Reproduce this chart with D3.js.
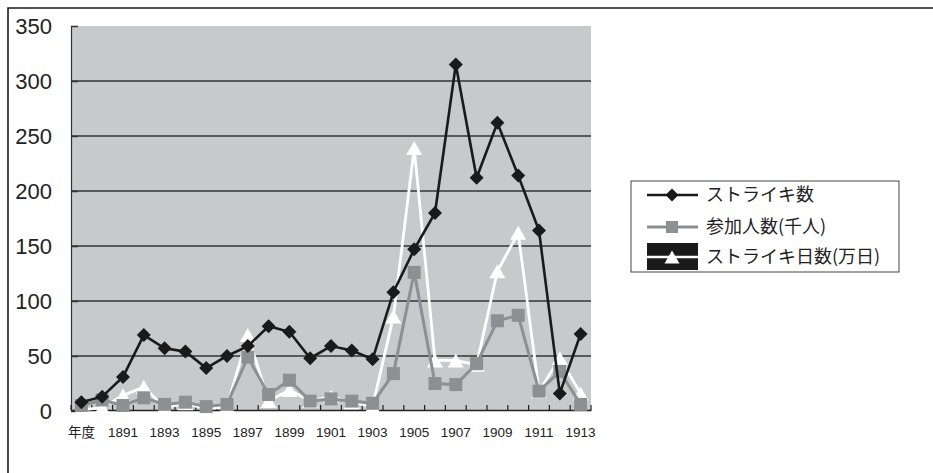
<!DOCTYPE html>
<html><head><meta charset="utf-8">
<script src="https://cdn.jsdelivr.net/npm/d3@7"></script>
<style>body{margin:0;background:#fff;}svg{display:block;}</style>
</head><body>
<svg id="c" width="933" height="473"></svg>
<script>
const categories = ["年度","1890","1891","1892","1893","1894","1895","1896","1897","1898","1899","1900","1901","1902","1903","1904","1905","1906","1907","1908","1909","1910","1911","1912","1913"];
const strikes = [8,13,31,69,57,54,39,50,59,77,72,48,59,55,47,108,147,180,315,212,262,214,164,16,70];
const participants = [5,10,5,12,6,8,4,6,49,15,28,9,11,9,7,34,126,25,24,43,82,87,18,36,6];
const strikeDays = [1,3,14,22,3,7,2,4,69,9,19,9,13,8,4,86,239,46,46,42,127,162,18,48,16];
const yTicks = [0,50,100,150,200,250,300,350];
const seriesNames = ["ストライキ数","参加人数(千人)","ストライキ日数(万日)"];

const svg = d3.select("#c");
const L = 71, R = 591, T = 26, B = 411;
const x = d3.scaleBand().domain(categories).range([L, R]);
const y = d3.scaleLinear().domain([0, 350]).range([B, T]);

svg.append("path").attr("d", `M8,480 L8,8 L940,8`).attr("fill","none").attr("stroke","#1a1a1a").attr("stroke-width",1.6);

svg.append("rect").attr("x", L).attr("y", T).attr("width", R - L).attr("height", B - T).attr("fill", "#c8c9cb");

svg.append("g").selectAll("line").data(yTicks.filter(d => d > 0 && d < 350)).join("line")
  .attr("x1", L).attr("x2", R).attr("y1", d => y(d)).attr("y2", d => y(d))
  .attr("stroke", "#333").attr("stroke-width", 1.3);

const ya = svg.append("g").attr("transform", `translate(${L},0)`)
  .call(d3.axisLeft(y).tickValues(yTicks).tickSize(-7).tickPadding(19));
ya.select(".domain").attr("stroke", "#333").attr("stroke-width", 1.2);
ya.selectAll(".tick line").attr("stroke", "#333").attr("stroke-width", 1.5);
ya.selectAll("text").attr("font-family", "Liberation Sans, Arial, sans-serif").attr("font-size", 22).attr("fill", "#222");

const xa = svg.append("g").attr("transform", `translate(0,${B - 1})`)
  .call(d3.axisBottom(x).tickValues(categories.filter((d, i) => i % 2 === 0)).tickSize(0).tickPadding(17));
xa.select(".domain").attr("stroke", "#222").attr("stroke-width", 1.5);
xa.selectAll("text").attr("font-family", "Liberation Sans, 'Noto Sans CJK JP', sans-serif").attr("font-size", 13.5).attr("fill", "#222");
svg.append("g").selectAll("line").data(d3.range(categories.length + 1)).join("line")
  .attr("x1", i => L + i * x.step()).attr("x2", i => L + i * x.step())
  .attr("y1", B - 1).attr("y2", B - 6).attr("stroke", "#222").attr("stroke-width", 1.2);

const cx = (d, i) => x(categories[i]) + x.bandwidth() / 2;
const line = d3.line().x((d, i) => cx(d, i)).y(d => y(d));
const tri = (w, h) => `M0,${-h/2}L${w/2},${h/2}L${-w/2},${h/2}Z`;
const dia = r => `M0,${-r}L${r},0L0,${r}L${-r},0Z`;

// strike days (white)
svg.append("path").attr("d", line(strikeDays)).attr("fill", "none").attr("stroke", "#fff").attr("stroke-width", 2.8);
svg.append("g").selectAll("path").data(strikeDays).join("path")
  .attr("transform", (d, i) => `translate(${cx(d, i)},${y(d)})`)
  .attr("d", tri(16, 14)).attr("fill", "#fff");

// participants (grey)
svg.append("path").attr("d", line(participants)).attr("fill", "none").attr("stroke", "#8e8f92").attr("stroke-width", 3);
svg.append("g").selectAll("rect").data(participants).join("rect")
  .attr("x", (d, i) => cx(d, i) - 6.5).attr("y", d => y(d) - 6.5).attr("width", 13).attr("height", 13)
  .attr("fill", "#8e8f92");

// strikes (black)
svg.append("path").attr("d", line(strikes)).attr("fill", "none").attr("stroke", "#1a1a1a").attr("stroke-width", 2.6);
svg.append("g").selectAll("path").data(strikes).join("path")
  .attr("transform", (d, i) => `translate(${cx(d, i)},${y(d)})`)
  .attr("d", dia(7)).attr("fill", "#1a1a1a");

// legend
const lg = svg.append("g");
lg.append("rect").attr("x", 631).attr("y", 181).attr("width", 268).attr("height", 91)
  .attr("fill", "#fff").attr("stroke", "#444").attr("stroke-width", 1);
const ly = [195, 227, 257];
lg.append("line").attr("x1", 647).attr("x2", 698).attr("y1", ly[0]).attr("y2", ly[0]).attr("stroke", "#1a1a1a").attr("stroke-width", 2.5);
lg.append("path").attr("transform", `translate(672,${ly[0]})`).attr("d", dia(6.5)).attr("fill", "#1a1a1a");
lg.append("line").attr("x1", 647).attr("x2", 698).attr("y1", ly[1]).attr("y2", ly[1]).attr("stroke", "#8e8f92").attr("stroke-width", 3);
lg.append("rect").attr("x", 666).attr("y", ly[1] - 6).attr("width", 12).attr("height", 12).attr("fill", "#8e8f92");
lg.append("rect").attr("x", 647).attr("y", 243).attr("width", 51).attr("height", 27).attr("fill", "#1a1a1a");
lg.append("line").attr("x1", 647).attr("x2", 698).attr("y1", ly[2]).attr("y2", ly[2]).attr("stroke", "#fff").attr("stroke-width", 2.5);
lg.append("path").attr("transform", `translate(672,${ly[2]})`).attr("d", tri(15, 13)).attr("fill", "#fff");
lg.selectAll("text").data(seriesNames).join("text")
  .attr("x", 706).attr("y", (d, i) => ly[i]).attr("dy", "0.36em")
  .attr("font-family", "'Noto Sans CJK JP', sans-serif").attr("font-size", 18).attr("fill", "#222")
  .text(d => d);
</script>
</body></html>
